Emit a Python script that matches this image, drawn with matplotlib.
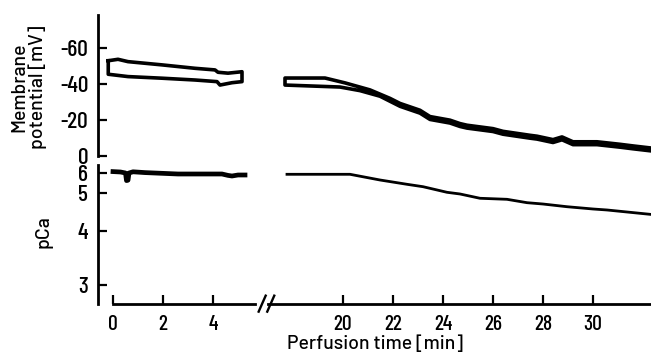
import matplotlib
matplotlib.use("Agg")
import matplotlib.pyplot as plt
import numpy as np
from matplotlib import font_manager

names = {f.name for f in font_manager.fontManager.ttflist}


def pick(cands):
    for c in cands:
        if c in names:
            return c
    return "DejaVu Sans"


tick_font = pick(["Barlow Condensed", "Barlow Semi Condensed", "Roboto Condensed",
                  "Archivo Narrow", "PT Sans Narrow", "Liberation Sans Narrow"])
label_font = pick(["Barlow", "Barlow Semi Condensed", "Roboto", "DejaVu Sans"])

# membrane potential, first period (closed outline: upper and lower edge)
t_mv1_top = [-0.19, 0.2, 0.6, 1.96, 3.28, 4.08, 4.2, 4.6, 5.16]
mv1_top = [-52.9, -53.7, -52.4, -50.6, -48.7, -47.8, -46.5, -46.0, -46.8]
t_mv1_bot = [-0.19, 0.6, 1.96, 3.28, 4.16, 4.28, 4.76, 5.16]
mv1_bot = [-45.4, -44.1, -43.2, -42.2, -41.3, -39.4, -40.7, -41.3]

# membrane potential, second period
t_mv2_top = [17.68, 19.28, 20.08, 21.08, 21.88, 22.28, 23.08, 23.48, 24.28, 24.68, 24.96,
             26.0, 26.4, 27.48, 27.76, 28.4, 28.76, 29.2, 30.16, 31.08, 31.6, 32.28]
mv2_top = [-43.3, -43.3, -40.6, -36.7, -32.0, -29.2, -25.4, -21.9, -19.9, -18.0, -17.1,
           -15.2, -13.7, -11.5, -11.0, -9.1, -10.6, -7.9, -7.9, -6.5, -5.6, -4.5]
t_mv2_bot = [17.68, 19.88, 20.68, 21.48, 22.28, 23.08, 23.48, 24.28, 24.68, 24.96, 26.0,
             26.4, 27.48, 27.76, 28.4, 28.76, 29.2, 30.16, 31.08, 31.6, 32.28]
mv2_bot = [-39.4, -38.3, -36.3, -33.2, -27.6, -23.8, -20.3, -18.3, -16.4, -15.5, -13.6,
           -12.1, -9.9, -9.4, -7.5, -9.0, -6.3, -6.3, -4.9, -4.0, -2.9]

# pCa traces
t_ca1 = [0.0, 0.3, 0.5, 0.54, 0.6, 0.64, 0.8, 1.28, 2.6, 4.36, 4.6, 4.76, 5.0, 5.28]
ca1 = [6.07, 6.05, 6.0, 5.62, 5.64, 6.0, 6.06, 6.02, 5.95, 5.95, 5.88, 5.85, 5.9, 5.9]
t_ca2 = [17.76, 20.28, 21.48, 22.56, 23.2, 24.16, 24.68, 25.48, 26.56, 27.36,
         28.0, 28.96, 30.0, 30.56, 32.28]
ca2 = [5.935, 5.935, 5.65, 5.435, 5.315, 5.035, 4.974, 4.861, 4.834, 4.745,
       4.71, 4.639, 4.579, 4.553, 4.439]

mv_ticks = [0, -20, -40, -60]
ca_ticks = [3, 4, 5, 6]
t_ticks1 = [0, 2, 4]
t_ticks2 = [20, 22, 24, 26, 28, 30]

# nonlinear pCa axis of the original recording
ca_cal = [1.0, 3.0, 4.0, 5.0, 6.0, 8.0]
ca_len = [-89.0, 19.0, 73.0, 111.0, 131.0, 171.0]
fwd = lambda p: np.interp(p, ca_cal, ca_len)
inv = lambda h: np.interp(h, ca_len, ca_cal)

W, H = 651, 352
fig = plt.figure(figsize=(W / 100, H / 100), dpi=100)


def box(x0, y0, x1, y1):
    return [x0 / W, 1 - y1 / H, (x1 - x0) / W, (y1 - y0) / H]


ax_tl = fig.add_axes(box(98, 15, 261, 156))
ax_tr = fig.add_axes(box(261, 15, 651, 156))
ax_bl = fig.add_axes(box(98, 165, 261, 304))
ax_br = fig.add_axes(box(261, 165, 651, 304))

lw_sp = 2.0
for ax in (ax_tl, ax_tr, ax_bl, ax_br):
    for s in ("top", "right"):
        ax.spines[s].set_visible(False)
    ax.spines["left"].set_linewidth(lw_sp)
    ax.spines["bottom"].set_linewidth(lw_sp)
    ax.set_facecolor("none")
    ax.tick_params(direction="in", width=1.6, length=6.5, pad=7)

for ax in (ax_tl, ax_tr):
    ax.set_ylim(0, -78.3)
    ax.spines["bottom"].set_visible(False)
    ax.set_xticks([])

for ax in (ax_bl, ax_br):
    ax.set_yscale("function", functions=(fwd, inv))
    ax.set_ylim(2.648, 6.4)
    ax.yaxis.set_minor_locator(matplotlib.ticker.NullLocator())
for ax in (ax_tl, ax_bl):
    ax.set_xlim(-0.6, 5.92)
for ax in (ax_tr, ax_br):
    ax.set_xlim(16.72, 32.32)
    ax.spines["left"].set_visible(False)
    ax.set_yticks([])

tk = dict(fontfamily=tick_font, fontweight="medium")
ax_tl.set_yticks(mv_ticks, [str(v) for v in mv_ticks], fontsize=17, **tk)
ax_bl.set_yticks(ca_ticks, [str(v) for v in ca_ticks], fontsize=17, **tk)
ax_bl.set_xticks(t_ticks1, [str(v) for v in t_ticks1], fontsize=15.5, **tk)
ax_br.set_xticks(t_ticks2, [str(v) for v in t_ticks2], fontsize=15.5, **tk)
ax_bl.spines["bottom"].set_bounds(0, 5.68)
ax_br.spines["bottom"].set_bounds(17.0, 32.32)
for ax in (ax_bl, ax_br):
    ax.tick_params(axis="x", pad=8)

# trace shapes
lw = 2.6
ax_tl.plot(t_mv1_top + t_mv1_bot[::-1] + t_mv1_top[:1],
           mv1_top + mv1_bot[::-1] + mv1_top[:1], color="black", lw=lw,
           solid_joinstyle="round")
ax_tr.plot(t_mv2_bot[::-1] + t_mv2_top, mv2_bot[::-1] + mv2_top,
           color="black", lw=lw, solid_joinstyle="round")
ax_bl.plot(t_ca1, ca1, color="black", lw=3.4, solid_joinstyle="round")
ax_br.plot(t_ca2, ca2, color="black", lw=2.0)

# axis break marks
for dx in (0.0, 0.022):
    ax_br.plot([-0.006 + dx, 0.012 + dx], [-0.055, 0.06], transform=ax_br.transAxes,
               color="black", lw=1.7, clip_on=False)

lab = dict(fontsize=14, family=label_font, fontweight="medium")
fig.text(29 / W, 1 - 87 / H, "Membrane\npotential [mV]", rotation=90,
         ha="center", va="center", linespacing=1.0, **lab)
fig.text(44 / W, 1 - 232 / H, "pCa", rotation=90, ha="center", va="center", **lab)
fig.text(375 / W, 1 - 344 / H, "Perfusion time [min]", ha="center", va="center", **lab)

fig.savefig("out.png", dpi=100)
